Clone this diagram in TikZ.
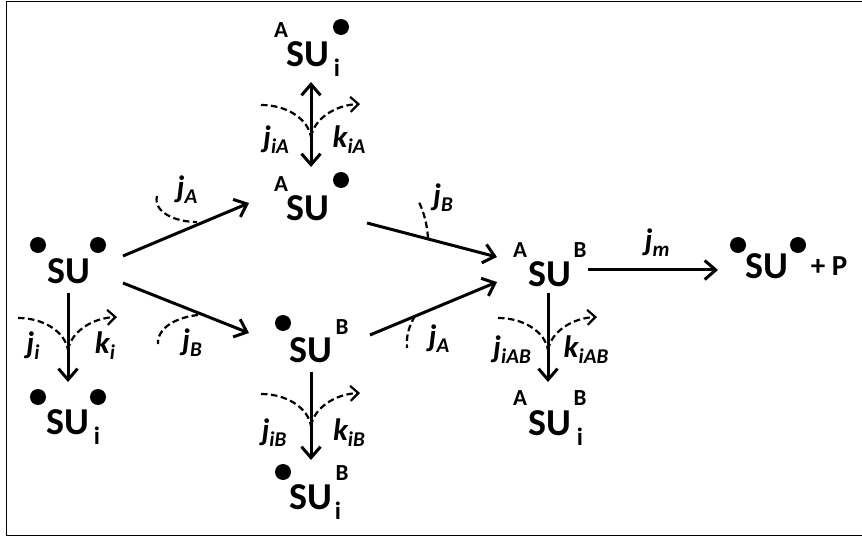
\documentclass[tikz,border=0pt]{standalone}
\usepackage{fontspec}
\setmainfont{Carlito}
\usetikzlibrary{arrows.meta}
\newcommand\jlab[2]{{\fontsize{31}{36}\selectfont\bfseries\itshape #1}\raisebox{-6pt}{\fontsize{21}{24}\selectfont\bfseries\itshape #2}}
\begin{document}
\begin{tikzpicture}[x=1pt,y=-1pt,
  su/.style={font=\fontsize{38}{44}\selectfont\bfseries, inner sep=0},
  sup/.style={font=\fontsize{23}{26}\selectfont\bfseries, inner sep=0},
  subs/.style={font=\fontsize{25}{28}\selectfont\bfseries, inner sep=0},
  bul/.style={fill=black, circle, inner sep=0, minimum size=16pt},
  lab/.style={inner sep=0},
  rxn/.style={line width=3pt, -{Straight Barb[length=11pt,width=19pt]}},
  rxnboth/.style={line width=3pt, {Straight Barb[length=11pt,width=19pt]}-{Straight Barb[length=11pt,width=19pt]}},
  inh/.style={line width=2.2pt, dash pattern=on 6.5pt off 3.5pt},
  inharr/.style={line width=2.2pt, dash pattern=on 6.5pt off 3.5pt, -{Straight Barb[length=8pt,width=15pt]}},
]
\useasboundingbox (0,0) rectangle (862,537);
\draw[line width=1.6pt] (6.5,1.5) rectangle (875,535.5);

% ---- species ----
% S0
\node[su] (S0) at (69,271) {SU};
\node[bul] (S0d1) at (38,245) {};
\node[bul] (S0d2) at (98,245) {};
% S0i
\node[su] (S0i) at (68,422) {SU};
\node[bul] (S0id1) at (38,397) {};
\node[bul] (S0id2) at (98,397) {};
\node[subs] (S0ii) at (97,436) {i};
% ASi
\node[su] (ASi) at (308,54) {SU};
\node[sup] (ASiA) at (281,30) {A};
\node[bul] (ASid) at (341,27) {};
\node[subs] (ASii) at (337,68) {i};
% AS
\node[su] (AS) at (308,208) {SU};
\node[sup] (ASA) at (281,184) {A};
\node[bul] (ASd) at (341,180) {};
% SB
\node[su] (SB) at (311,350) {SU};
\node[bul] (SBd) at (283,323) {};
\node[sup] (SBB) at (342,327) {B};
% SBi
\node[su] (SBi) at (311,497) {SU};
\node[bul] (SBid) at (283,472) {};
\node[sup] (SBiB) at (342,473) {B};
\node[subs] (SBii) at (338,511) {i};
% ASB
\node[su] (ASB) at (550,274) {SU};
\node[sup] (ASBA) at (520,250) {A};
\node[sup] (ASBB) at (580,250) {B};
% ASBi
\node[su] (ASBi) at (550,423) {SU};
\node[sup] (ASBiA) at (520,398) {A};
\node[sup] (ASBiB) at (580,398) {B};
\node[subs] (ASBii) at (580,437) {i};
% product
\node[su] (F) at (767,266) {SU};
\node[bul] (Fd1) at (738,245) {};
\node[bul] (Fd2) at (798,245) {};
\node[font=\fontsize{29}{34}\selectfont\bfseries, inner sep=0] (P) at (829,266) {+ P};

% ---- connector end points ----
\coordinate (a1s) at (123,256); \coordinate (a1e) at (249,203);
\coordinate (a2s) at (123,283); \coordinate (a2e) at (249,333);
\coordinate (a3s) at (367,223); \coordinate (a3e) at (497,257);
\coordinate (a4s) at (370,335); \coordinate (a4e) at (497,282);
\coordinate (a5s) at (588,270); \coordinate (a5e) at (718,270);
\coordinate (v1s) at (68,293);  \coordinate (v1e) at (68,382);
\coordinate (v2s) at (311,82);  \coordinate (v2e) at (311,167);
\coordinate (v3s) at (311,372); \coordinate (v3e) at (311,460);
\coordinate (v4s) at (548,293); \coordinate (v4e) at (548,382);

\draw[rxn] (a1s) -- (a1e);
\draw[rxn] (a2s) -- (a2e);
\draw[rxn] (a3s) -- (a3e);
\draw[rxn] (a4s) -- (a4e);
\draw[rxn] (a5s) -- (a5e);
\draw[rxn] (v1s) -- (v1e);
\draw[rxnboth] (v2s) -- (v2e);
\draw[rxn] (v3s) -- (v3e);
\draw[rxn] (v4s) -- (v4e);

% ---- inhibition arcs on vertical arrows ----
\foreach \X/\M/\n in {68/350/a, 311/137/b, 311/426/c, 548/350/d}{
  \coordinate (m\n) at (\X,\M);
  \draw[inh] (\X-50,\M-32) .. controls (\X-24,\M-32) and (\X-3,\M-18) .. (m\n);
  \draw[inharr] (m\n) .. controls (\X+3,\M-18) and (\X+24,\M-32) .. (\X+49,\M-33);
}

% ---- small arcs on slanted arrows ----
\coordinate (c1) at (197,222);
\draw[inh] (157,196) .. controls (153,212) and (175,222) .. (c1);
\coordinate (c2) at (198,315);
\draw[inh] (c2) .. controls (178,317) and (157,327) .. (158,344);
\coordinate (c3) at (428,238);
\draw[inh] (c3) .. controls (427,224) and (424,212) .. (418,200);
\coordinate (c4) at (415,316);
\draw[inh] (c4) .. controls (409,326) and (406,336) .. (407,348);

% ---- labels ----
\node[lab] (Lji) at (33,346) {\jlab{j}{i}};
\node[lab] (Lki) at (105,346) {\jlab{k}{i}};
\node[lab] (LjiA) at (276,140) {\jlab{j}{iA}};
\node[lab] (LkiA) at (349,140) {\jlab{k}{iA}};
\node[lab] (LjiB) at (274,433) {\jlab{j}{iB}};
\node[lab] (LkiB) at (349,433) {\jlab{k}{iB}};
\node[lab] (LjiAB) at (512,350) {\jlab{j}{iAB}};
\node[lab] (LkiAB) at (586,350) {\jlab{k}{iAB}};
\node[lab] (LjA1) at (187,190) {\jlab{j}{A}};
\node[lab] (LjB1) at (192,343) {\jlab{j}{B}};
\node[lab] (LjB2) at (443,198) {\jlab{j}{B}};
\node[lab] (LjA2) at (439,339) {\jlab{j}{A}};
\node[lab] (Ljm) at (657,243) {\jlab{j}{m}};
\end{tikzpicture}
\end{document}
